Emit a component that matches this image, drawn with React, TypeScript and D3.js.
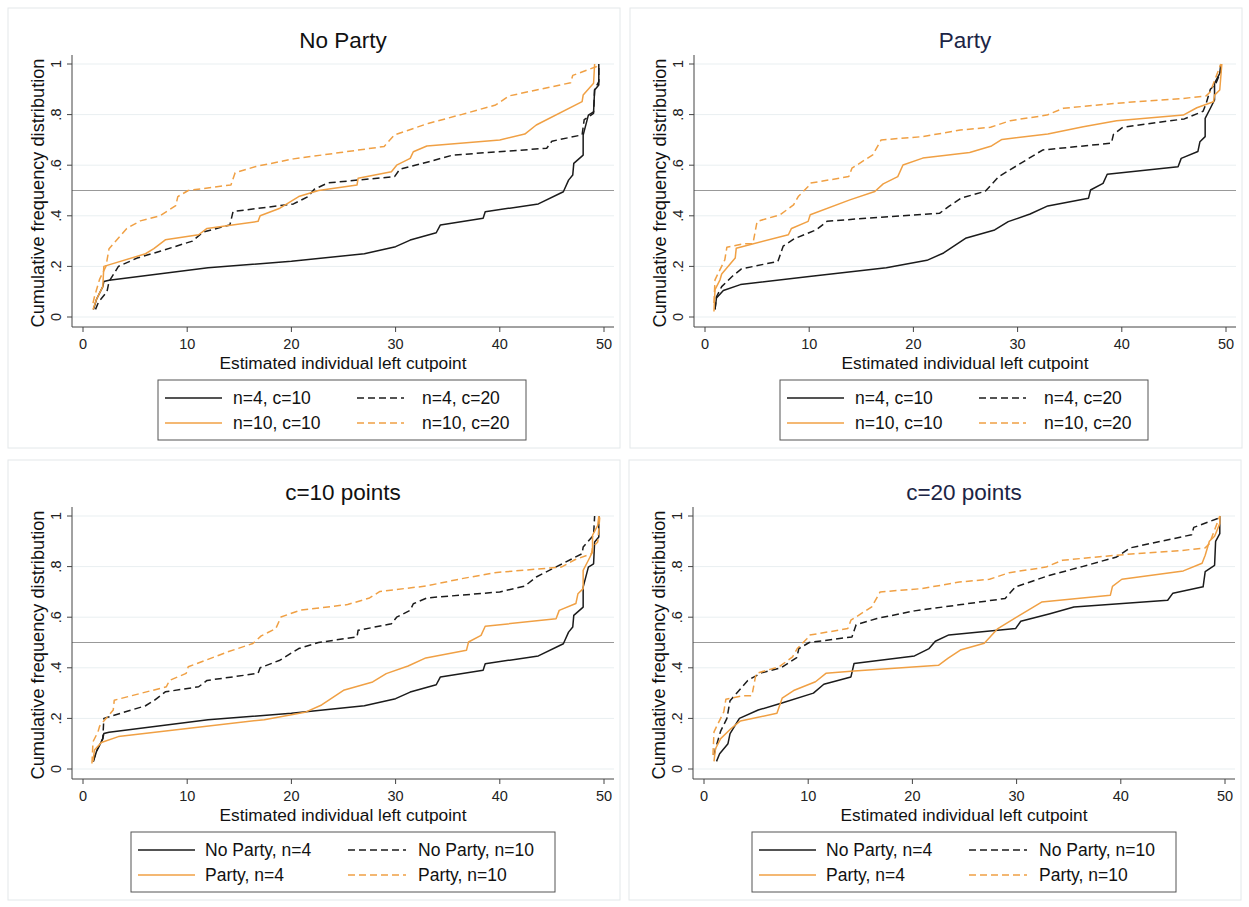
import React from "react";
import * as d3 from "d3";

type Pt = [number, number];

// No Party, n=4, c=10
const noParty4c10: Pt[] = [[1.0,0.03],[1.3,0.07],[1.9,0.12],[2.0,0.14],[2.5,0.145],[12,0.195],[20,0.22],[27,0.25],[30,0.278],[31.4,0.304],[33.9,0.333],[34.3,0.364],[38.4,0.39],[38.6,0.416],[43.7,0.447],[46.1,0.495],[46.6,0.541],[47,0.561],[47.1,0.607],[48,0.64],[48,0.719],[48.5,0.798],[49,0.811],[49.1,0.897],[49.5,0.917],[49.5,1.0]];
// No Party, n=10, c=10
const noParty10c10: Pt[] = [[0.96,0.03],[1.3,0.07],[1.9,0.12],[2.0,0.20],[6,0.25],[6.8,0.27],[7.9,0.305],[11.1,0.325],[11.9,0.35],[16.8,0.378],[17,0.40],[18.9,0.43],[20.7,0.476],[22.6,0.50],[26.3,0.522],[26.4,0.548],[29.6,0.574],[30.1,0.60],[31.4,0.627],[31.7,0.653],[33,0.676],[40,0.70],[42.4,0.723],[43.5,0.759],[47.9,0.851],[48,0.877],[49,0.924],[49.1,1.0]];
// No Party, n=4, c=20
const noParty4c20: Pt[] = [[1.2,0.03],[1.5,0.06],[2.3,0.10],[2.5,0.14],[3.4,0.20],[5.2,0.233],[7.4,0.26],[10.5,0.30],[11.5,0.335],[14.1,0.364],[14.4,0.417],[20.2,0.447],[21.6,0.476],[22.2,0.505],[23.5,0.53],[29.9,0.555],[30.4,0.584],[33.2,0.614],[35.5,0.64],[44.5,0.667],[45,0.695],[47.9,0.72],[48.1,0.78],[49,0.805],[49.1,0.9],[49.5,0.93],[49.5,1.0]];
// No Party, n=10, c=20
const noParty10c20: Pt[] = [[0.96,0.055],[1.1,0.08],[1.6,0.15],[2.2,0.2],[2.5,0.27],[4.2,0.35],[5.5,0.38],[7.4,0.40],[8.9,0.44],[9.1,0.476],[10.1,0.50],[14.2,0.522],[14.6,0.57],[16.6,0.595],[20.2,0.625],[24.7,0.65],[28.9,0.674],[29.9,0.72],[33.2,0.766],[36.3,0.80],[39.6,0.838],[40.9,0.874],[46.8,0.926],[47,0.955],[49.3,0.99],[49.4,1.0]];
// Party, n=4, c=10
const party4c10: Pt[] = [[0.96,0.03],[1.1,0.075],[1.76,0.105],[3.4,0.128],[10,0.16],[17.4,0.195],[21.3,0.224],[22.9,0.253],[25,0.311],[27.8,0.344],[29.1,0.377],[31.2,0.407],[32.9,0.439],[36.8,0.469],[37,0.502],[38.2,0.528],[38.6,0.564],[45.4,0.594],[45.7,0.627],[47.3,0.654],[47.5,0.693],[48,0.713],[48,0.785],[48.5,0.825],[48.9,0.858],[48.9,0.924],[49.4,0.963],[49.5,1.0]];
// Party, n=10, c=10
const party10c10: Pt[] = [[0.86,0.022],[0.96,0.108],[1.44,0.147],[1.6,0.17],[2.9,0.233],[3.0,0.272],[8,0.325],[8.3,0.35],[9.9,0.378],[10.1,0.404],[13.9,0.463],[16.3,0.496],[17.1,0.526],[18.5,0.555],[19,0.601],[20.9,0.628],[25.4,0.65],[27.5,0.676],[28.5,0.702],[32.9,0.723],[36.3,0.752],[39.5,0.776],[45.9,0.798],[47.2,0.827],[48.8,0.851],[48.9,0.877],[49.4,0.897],[49.6,1.0]];
// Party, n=4, c=20
const party4c20: Pt[] = [[0.96,0.03],[1.1,0.08],[1.6,0.12],[2.6,0.16],[3.5,0.19],[7,0.22],[7.5,0.28],[8.6,0.31],[10.7,0.345],[11.7,0.378],[14.4,0.387],[22.5,0.41],[23.4,0.437],[24.6,0.47],[26.9,0.497],[28.2,0.555],[30,0.60],[32.4,0.66],[39,0.687],[39.2,0.722],[40.1,0.75],[46,0.783],[47.8,0.813],[48.1,0.845],[48.5,0.9],[49,0.92],[49.5,0.97],[49.5,1.0]];
// Party, n=10, c=20
const party10c20: Pt[] = [[0.86,0.055],[0.96,0.147],[1.9,0.226],[2.1,0.276],[3.8,0.29],[4.6,0.29],[5,0.378],[7.2,0.404],[8.5,0.443],[8.95,0.476],[9.9,0.516],[10.1,0.529],[13.8,0.555],[14.1,0.588],[16.1,0.641],[16.9,0.70],[20.9,0.713],[24.5,0.739],[27.4,0.75],[29.3,0.776],[32.8,0.798],[34.4,0.825],[39.5,0.845],[45.9,0.864],[48.1,0.874],[48.5,0.89],[49.5,1.0]];

const panelTitles = ["No Party", "Party", "c=10 points", "c=20 points"];
const yTicks = [0, 0.2, 0.4, 0.6, 0.8, 1];
const yTickLabels = ["0", ".2", ".4", ".6", ".8", "1"];
const xTicks = [0, 10, 20, 30, 40, 50];
const yTitle = "Cumulative frequency distribution";
const xTitle = "Estimated individual left cutpoint";
const refLine = 0.5;

const BLACK = "#1b1b1b";
const ORANGE = "#f0a044";

type Series = { data: Pt[]; label: string; color: string; dashed: boolean };

const panels: { title: string; titleColor: string; ox: number; oy: number; wide: boolean; series: Series[] }[] = [
  {
    title: panelTitles[0], titleColor: "#111", ox: 0, oy: 0, wide: false,
    series: [
      { data: noParty4c10, label: "n=4, c=10", color: BLACK, dashed: false },
      { data: noParty4c20, label: "n=4, c=20", color: BLACK, dashed: true },
      { data: noParty10c10, label: "n=10, c=10", color: ORANGE, dashed: false },
      { data: noParty10c20, label: "n=10, c=20", color: ORANGE, dashed: true },
    ],
  },
  {
    title: panelTitles[1], titleColor: "#1c2545", ox: 622, oy: 0, wide: false,
    series: [
      { data: party4c10, label: "n=4, c=10", color: BLACK, dashed: false },
      { data: party4c20, label: "n=4, c=20", color: BLACK, dashed: true },
      { data: party10c10, label: "n=10, c=10", color: ORANGE, dashed: false },
      { data: party10c20, label: "n=10, c=20", color: ORANGE, dashed: true },
    ],
  },
  {
    title: panelTitles[2], titleColor: "#111", ox: 0, oy: 452, wide: true,
    series: [
      { data: noParty4c10, label: "No Party, n=4", color: BLACK, dashed: false },
      { data: noParty10c10, label: "No Party, n=10", color: BLACK, dashed: true },
      { data: party4c10, label: "Party, n=4", color: ORANGE, dashed: false },
      { data: party10c10, label: "Party, n=10", color: ORANGE, dashed: true },
    ],
  },
  {
    title: panelTitles[3], titleColor: "#1c2545", ox: 621, oy: 452, wide: true,
    series: [
      { data: noParty4c20, label: "No Party, n=4", color: BLACK, dashed: false },
      { data: noParty10c20, label: "No Party, n=10", color: BLACK, dashed: true },
      { data: party4c20, label: "Party, n=4", color: ORANGE, dashed: false },
      { data: party10c20, label: "Party, n=10", color: ORANGE, dashed: true },
    ],
  },
];

const FONT = "'Liberation Sans', Arial, Helvetica, sans-serif";

function Panel({ p }: { p: (typeof panels)[number] }) {
  const { ox, oy } = p;
  const x = d3.scaleLinear().domain([0, 50]).range([ox + 83, ox + 604]);
  const y = d3.scaleLinear().domain([0, 1]).range([oy + 317, oy + 64]);
  const left = ox + 72;
  const right = ox + 614;
  const bottom = oy + 327;
  const top = oy + 55;
  const line = d3.line<Pt>().x((d) => x(d[0])).y((d) => y(d[1]));
  const lg = p.wide
    ? { bx0: ox + 131, bx1: ox + 555, c1l: ox + 138, c1r: ox + 195, c1t: ox + 205, c2l: ox + 348, c2r: ox + 406, c2t: ox + 418 }
    : { bx0: ox + 158, bx1: ox + 526, c1l: ox + 165, c1r: ox + 222, c1t: ox + 233, c2l: ox + 357, c2r: ox + 404, c2t: ox + 422 };
  const rows = [oy + 398, oy + 423];
  const cx = (left + right) / 2;
  return (
    <g>
      <rect x={ox + 8} y={oy + 8} width={612} height={440} fill="#fff" stroke="#e3e8ea" strokeWidth={1} />
      <text x={cx} y={oy + 48} textAnchor="middle" fontSize={22.5} fill={p.titleColor} fontFamily={FONT}>{p.title}</text>
      {yTicks.map((t) => (
        <line key={"g" + t} x1={left} x2={right} y1={y(t)} y2={y(t)} stroke="#e9eff1" strokeWidth={1} />
      ))}
      <line x1={left} x2={right} y1={y(refLine)} y2={y(refLine)} stroke="#999" strokeWidth={1.2} />
      <line x1={left} x2={left} y1={top} y2={bottom} stroke="#444" strokeWidth={1} />
      <line x1={left} x2={right} y1={bottom} y2={bottom} stroke="#444" strokeWidth={1} />
      {yTicks.map((t, i) => (
        <g key={"y" + t}>
          <line x1={left - 5} x2={left} y1={y(t)} y2={y(t)} stroke="#444" />
          <text transform={`translate(${ox + 61},${y(t)}) rotate(-90)`} textAnchor="middle" fontSize={14.5} fill="#222" fontFamily={FONT}>{yTickLabels[i]}</text>
        </g>
      ))}
      {xTicks.map((t) => (
        <g key={"x" + t}>
          <line x1={x(t)} x2={x(t)} y1={bottom} y2={bottom + 5} stroke="#444" />
          <text x={x(t)} y={bottom + 22} textAnchor="middle" fontSize={14.5} fill="#222" fontFamily={FONT}>{t}</text>
        </g>
      ))}
      <text transform={`translate(${ox + 44},${(top + bottom) / 2 + 2}) rotate(-90)`} textAnchor="middle" fontSize={18.2} fill="#111" fontFamily={FONT}>{yTitle}</text>
      <text x={cx} y={bottom + 42} textAnchor="middle" fontSize={17.3} fill="#111" fontFamily={FONT}>{xTitle}</text>
      {p.series.map((s, i) => (
        <path key={"s" + i} d={line(s.data) || ""} fill="none" stroke={s.color} strokeWidth={1.5} strokeDasharray={s.dashed ? "7,4" : undefined} strokeLinejoin="round" />
      ))}
      <rect x={lg.bx0} y={oy + 380} width={lg.bx1 - lg.bx0} height={60} fill="#fff" stroke="#555" strokeWidth={1} />
      {p.series.map((s, i) => {
        const col = i % 2;
        const row = Math.floor(i / 2);
        const l = col === 0 ? lg.c1l : lg.c2l;
        const r = col === 0 ? lg.c1r : lg.c2r;
        const tx = col === 0 ? lg.c1t : lg.c2t;
        return (
          <g key={"l" + i}>
            <line x1={l} x2={r} y1={rows[row]} y2={rows[row]} stroke={s.color} strokeWidth={1.5} strokeDasharray={s.dashed ? "7,4" : undefined} />
            <text x={tx} y={rows[row] + 6} fontSize={17.5} fill="#111" fontFamily={FONT}>{s.label}</text>
          </g>
        );
      })}
    </g>
  );
}

export default function App() {
  return (
    <div style={{ position: "absolute", left: 0, top: 0 }}>
      <svg width={1249} height={907} style={{ display: "block", background: "#fff" }}>
        <rect x={0} y={0} width={1249} height={907} fill="#fff" />
        {panels.map((p, i) => (
          <Panel key={i} p={p} />
        ))}
      </svg>
    </div>
  );
}
